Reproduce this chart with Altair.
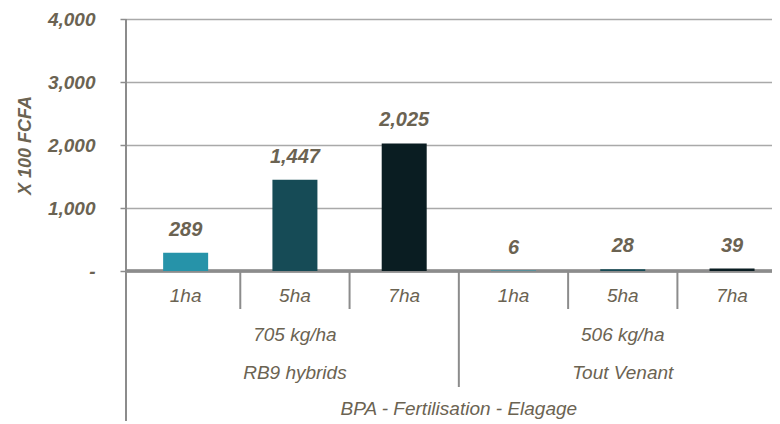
import altair as alt
import pandas as pd

# ---- data ----
varieties = ["RB9 hybrids", "RB9 hybrids", "RB9 hybrids", "Tout Venant", "Tout Venant", "Tout Venant"]
doses = ["705 kg/ha", "705 kg/ha", "705 kg/ha", "506 kg/ha", "506 kg/ha", "506 kg/ha"]
sizes = ["1ha", "5ha", "7ha", "1ha", "5ha", "7ha"]
values = [289, 1447, 2025, 6, 28, 39]
overall_label = "BPA  - Fertilisation - Elagage"
y_ticks = [0, 1000, 2000, 3000, 4000]
size_order = ["1ha", "5ha", "7ha"]
size_colors = ["#2693a9", "#164b56", "#0a1d22"]

TXT = "#6b6352"
LINE = "#8c8c8c"
FONT = "Liberation Sans"

df = pd.DataFrame({
    "pos": list(range(len(values))),
    "variety": varieties,
    "dose": doses,
    "size": sizes,
    "value": values,
})
df["label"] = df["value"].map(lambda v: f"{v:,}")

groups = df.groupby(["variety", "dose"], sort=False)["pos"].agg(["mean", "min", "max"]).reset_index()

# band boundaries
inner_bounds = []
outer_bounds = []
for _, g in groups.iterrows():
    for p in range(int(g["min"]), int(g["max"])):
        inner_bounds.append(p + 0.5)
for i in range(len(groups) - 1):
    outer_bounds.append(groups.loc[i, "max"] + 0.5)
inner_df = pd.DataFrame({"b": inner_bounds})
outer_df = pd.DataFrame({"b": outer_bounds})
overall_df = pd.DataFrame({"pos": [df["pos"].mean()], "t": [overall_label]})

W, H = 646, 252
band = 111
xdom = [-0.5, W / band - 0.5]
xs = alt.Scale(domain=xdom, nice=False, zero=False)
ys = alt.Scale(domain=[0, 4000], nice=False)

base = alt.Chart(df)

zero_line = base.mark_rule(color=LINE, strokeWidth=2.5).encode(
    y=alt.datum(0, scale=ys), x=alt.value(0), x2=alt.value(W)
)

bars = base.mark_bar(size=45).encode(
    x=alt.X("pos:Q", scale=xs, axis=None),
    y=alt.Y("value:Q", scale=ys,
            axis=alt.Axis(values=y_ticks, title="X 100 FCFA",
                          labelExpr="datum.value == 0 ? '-' : format(datum.value, ',')")),
    color=alt.Color("size:N", scale=alt.Scale(domain=size_order, range=size_colors), legend=None),
)

value_text = base.mark_text(font=FONT, fontSize=20, fontWeight="bold", fontStyle="italic",
                            color=TXT, baseline="alphabetic", dy=-17).encode(
    x=alt.X("pos:Q", scale=xs), y=alt.Y("value:Q", scale=ys), text="label:N"
)

size_text = base.mark_text(font=FONT, fontSize=19, fontStyle="italic", color=TXT,
                           baseline="middle").encode(
    x=alt.X("pos:Q", scale=xs), y=alt.value(277), text="size:N"
)

dose_text = alt.Chart(groups).mark_text(font=FONT, fontSize=19, fontStyle="italic", color=TXT,
                                        baseline="middle").encode(
    x=alt.X("mean:Q", scale=xs), y=alt.value(316), text="dose:N"
)
var_text = alt.Chart(groups).mark_text(font=FONT, fontSize=19, fontStyle="italic", color=TXT,
                                       baseline="middle").encode(
    x=alt.X("mean:Q", scale=xs), y=alt.value(354), text="variety:N"
)
overall_text = alt.Chart(overall_df).mark_text(font=FONT, fontSize=19, fontStyle="italic", color=TXT,
                                               baseline="middle").encode(
    x=alt.X("pos:Q", scale=xs), y=alt.value(390), text="t:N"
)

inner_rules = alt.Chart(inner_df).mark_rule(color=LINE, strokeWidth=2).encode(
    x=alt.X("b:Q", scale=xs), y=alt.value(H), y2=alt.value(290)
)
outer_rules = alt.Chart(outer_df).mark_rule(color=LINE, strokeWidth=2).encode(
    x=alt.X("b:Q", scale=xs), y=alt.value(H), y2=alt.value(368)
)
left_line = base.mark_rule(color=LINE, strokeWidth=2).encode(
    x=alt.value(0), y=alt.value(0), y2=alt.value(402)
)

chart = alt.layer(
    zero_line, bars, value_text, size_text, dose_text, var_text, overall_text,
    inner_rules, outer_rules, left_line
).properties(
    width=W, height=H,
    autosize=alt.AutoSizeParams(type="none"),
    padding={"left": 118, "top": 11, "right": 0, "bottom": 150},
).configure_view(stroke=None).configure_axisY(
    grid=True, gridColor="#a9a9a9", gridWidth=1.5,
    domain=False, ticks=True, tickSize=6, tickColor=LINE, tickWidth=1.5,
    labelFont=FONT, labelFontSize=19, labelFontWeight="bold", labelFontStyle="italic",
    labelColor=TXT, labelPadding=25, labelBaseline="middle",
    titleFont=FONT, titleFontSize=18, titleFontWeight="bold", titleFontStyle="italic",
    titleColor=TXT, titleX=-101, titleY=126, titleAngle=270, titleAlign="center",
    titleBaseline="middle",
)

chart.save("out.html", embed_options={"renderer": "svg", "actions": False})
